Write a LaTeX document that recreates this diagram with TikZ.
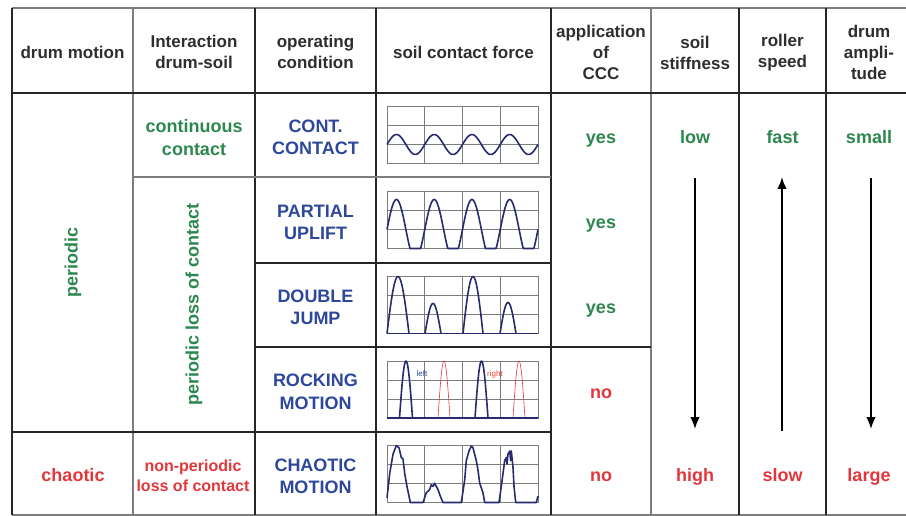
\documentclass[tikz,border=0pt]{standalone}
\usepackage{fontspec}
\setmainfont{Liberation Sans}
\usetikzlibrary{arrows.meta,positioning}

\definecolor{okgreen}{RGB}{44,136,78}
\definecolor{badred}{RGB}{225,55,60}
\definecolor{modeblue}{RGB}{45,72,155}
\definecolor{curveblue}{RGB}{38,42,110}
\definecolor{rulegray}{RGB}{125,125,125}

\tikzset{
  head/.style      = {font=\fontsize{17}{21}\selectfont\bfseries, text=black!82,
                      align=center, inner sep=1pt},
  cell/.style      = {font=\fontsize{18}{22.5}\selectfont\bfseries, align=center,
                      inner sep=1pt},
  word/.style      = {text height=12.5pt, text depth=3.5pt},
  good/.style      = {cell, text=okgreen},
  bad/.style       = {cell, text=badred},
  mode/.style      = {cell, text=modeblue},
  darkrule/.style  = {line width=1.6pt, black!85},
  lightrule/.style = {line width=1.1pt, rulegray},
  trend/.style     = {-{Latex[length=12pt,width=9.5pt]}, line width=1.7pt},
  panel/.style     = {shift={(387,#1)}, yscale=-1},
  gridline/.style  = {rulegray, line width=0.7pt},
  curve/.style     = {curveblue, line width=1.6pt, line join=round},
  tag/.style       = {font=\fontsize{8}{8}\selectfont, inner sep=0pt},
}

\begin{document}
\begin{tikzpicture}[x=1pt, y=-1pt]
\useasboundingbox (0,0) rectangle (906,516);

% table rules
\draw[lightrule] (12,8) -- (913,8);
\draw[lightrule] (12,515) -- (913,515);
\foreach \x in {133,651}
  \draw[lightrule] (\x,8) -- (\x,515);
\foreach \x in {12,255,376,551,739,826}
  \draw[darkrule] (\x,8) -- (\x,515);
\draw[darkrule] (12,93) -- (913,93);
\draw[lightrule] (133,177) -- (551,177);
\draw[darkrule] (255,263) -- (551,263);
\draw[darkrule] (255,347) -- (651,347);
\draw[darkrule] (12,432) -- (551,432);

% header
\node[head] (h-motion) at (72.5,52)  {drum motion};
\node[head] (h-inter)  at (194,52)   {Interaction\\drum-soil};
\node[head] (h-cond)   at (315.5,52) {operating\\condition};
\node[head] (h-force)  at (463.5,52) {soil contact force};
\node[head] (h-ccc)    at (601,52)   {application\\of\\CCC};
\node[head] (h-stiff)  at (695,53)   {soil\\stiffness};
\node[head] (h-speed)  at (782.5,53) {roller\\speed};
\node[head] (h-ampl)   at (869,52)   {drum\\ampli-\\tude};

% drum motion and interaction
\node[good, rotate=90] (periodic) at (73,262.5)  {periodic};
\node[bad, word]       (chaotic)  at (73,477)    {chaotic};
\node[good]            (cont)     at (194,137.5) {continuous\\contact};
\node[good, rotate=90] (ploss)    at (194,304.5) {periodic loss of contact};
\node[bad, font=\fontsize{16}{20}\selectfont\bfseries]
                       (nploss)   at (193,476)   {non-periodic\\loss of contact};

% operating conditions
\node[mode] (m1) at (315.5,137.5) {CONT.\\CONTACT};
\node[mode] (m2) at (315.5,222.5) {PARTIAL\\UPLIFT};
\node[mode] (m3) at (315.5,307.5) {DOUBLE\\JUMP};
\node[mode] (m4) at (315.5,392)   {ROCKING\\MOTION};
\node[mode] (m5) at (315.5,476.5) {CHAOTIC\\MOTION};

% application of CCC
\foreach \i/\y in {1/139,2/224,3/309}
  \node[good, word] (ccc\i) at (601,\y) {yes};
\foreach \i/\y in {4/393.5,5/477}
  \node[bad, word] (ccc\i) at (601,\y) {no};

% trends
\node[good, word] (low)   at (695,139)   {low};
\node[bad, word]  (high)  at (695,477)   {high};
\node[good, word] (fast)  at (782.5,139) {fast};
\node[bad, word]  (slow)  at (782.5,477) {slow};
\node[good, word] (small) at (869,139)   {small};
\node[bad, word]  (large) at (869,477)   {large};

\coordinate (stiff-a) at (695,178);
\coordinate (stiff-b) at (695,429);
\coordinate (speed-a) at (782,431);
\coordinate (speed-b) at (782,177);
\coordinate (ampl-a)  at (871,178);
\coordinate (ampl-b)  at (871,429);
\draw[trend] (stiff-a) -- (stiff-b);
\draw[trend] (speed-a) -- (speed-b);
\draw[trend] (ampl-a) -- (ampl-b);

% soil contact force panels
\foreach \yb in {163.5,248.5,333.5,418,502.5} {
  \begin{scope}[panel=\yb]
    \foreach \i in {1,2,3}
      \draw[gridline] (\i*37.75,0) -- (\i*37.75,57);
    \foreach \j in {1,2}
      \draw[gridline] (0,\j*19) -- (151,\j*19);
    \draw[gridline] (0,0) rectangle (151,57);
  \end{scope}
}

% continuous contact
\begin{scope}[panel=163.5]
  \draw[curve] plot[domain=0:151, samples=121, smooth] (\x,{19+10*sin(\x/151*1440)});
\end{scope}

% partial uplift
\begin{scope}[panel=248.5]
  \draw[curve] plot[domain=0:151, samples=303] (\x,{max(0,19+30*sin(\x/151*1440))});
\end{scope}

% double jump
\begin{scope}[panel=333.5]
  \draw[curve] (0,0) -- (151,0);
  \foreach \a/\b/\h in {0/22/57, 38/54/30, 76/96/57, 113/129/31}
    \draw[curve] plot[domain=\a:\b, samples=31, smooth] (\x,{\h*sin((\x-\a)/(\b-\a)*180)});
\end{scope}

% rocking motion
\begin{scope}[panel=418]
  \foreach \a/\b in {51/63, 126/138}
    \draw[badred, line width=0.6pt] plot[domain=\a:\b, samples=25, smooth] (\x,{57*sin((\x-\a)/(\b-\a)*180)});
  \draw[curve] (0,0) -- (151,0);
  \foreach \a/\b in {12.5/25.5, 88/101}
    \draw[curve] plot[domain=\a:\b, samples=25, smooth] (\x,{57*sin((\x-\a)/(\b-\a)*180)});
  \node[tag, text=modeblue] (lefttag)  at (35,44)  {left};
  \node[tag, text=badred!80!orange] (righttag) at (108,44) {right};
\end{scope}

% chaotic motion
\begin{scope}[panel=502.5]
  \draw[curve] plot coordinates {(0,4.8) (2.7,29) (6,48.3) (9.3,57) (12,54.7)
    (14.3,45) (16,43.5) (17.7,29) (20,16) (22,6.4) (23.3,0) (36,0) (39.3,9.7)
    (42.7,12.9) (44.3,17.7) (46,16.1) (47.7,19.3) (49.3,16.1) (51,12.9)
    (53.3,6.4) (56,0) (74.3,0) (77.7,22.5) (79.3,41.9) (82,51.5) (84.3,56.4)
    (86,54.7) (89.3,41.9) (91,32.2) (92.7,19.3) (96,9.7) (97.7,0) (112,0)
    (114.3,16.1) (116,29) (117.7,41.9) (119.3,45) (120,38.6) (121,48.3)
    (122.7,51.5) (123.7,41.9) (124.3,51.5) (126,35.4) (127,16.1) (128.7,0)
    (149.3,0) (151,6.4)};
\end{scope}

\end{tikzpicture}
\end{document}
